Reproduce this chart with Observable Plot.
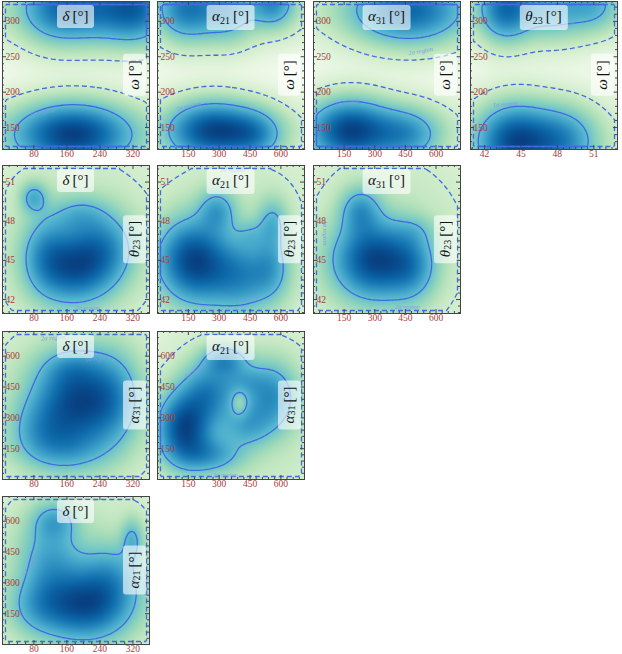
<!DOCTYPE html>
<html><head><meta charset="utf-8">
<script src="https://cdn.jsdelivr.net/npm/d3@7"></script>
<script src="https://cdn.jsdelivr.net/npm/@observablehq/plot@0.6"></script>
<style>
body{margin:0;background:#fff;}
#root{position:relative;width:622px;height:654px;overflow:hidden;background:#fff;}
.panel{position:absolute;}
.lab{position:absolute;background:rgba(255,255,255,0.62);border-radius:3px;font-family:"Liberation Serif","DejaVu Serif",serif;font-size:15px;color:#111;white-space:nowrap;line-height:1;}
.lab sub{font-size:10px;vertical-align:-3px;font-style:normal;}
.top{padding:4px 6px 4px 6px;transform:translateX(-50%);}
.side{writing-mode:vertical-rl;padding:6px 4px 6px 4px;transform:translateY(-50%) rotate(180deg);}
</style></head>
<body><div id="root"></div>
<script>
// ---- axis data ----
const deltaDomain = [4, 360], deltaTicks = [80, 160, 240, 320], deltaMinor = 20;
const alpha21DomainX = [0, 715], alpha21DomainY = [0, 720];
const alpha31DomainX = [0, 720], alpha31DomainY = [0, 720];
const alphaTicks = [150, 300, 450, 600], alphaMinor = 30;
const theta23DomainX = [40.85, 52.95], theta23DomainY = [40.93, 52.27];
const thetaTicks = [42, 45, 48, 51], thetaMinor = 0.5;
const omegaDomain = [119, 328], omegaTicks = [150, 200, 250, 300], omegaMinor = 10;

// ---- density components: [cx, cy, sx, sy, weight] ----
const compDeltaOmega = [
  [175,140,88,28,1.0],[180,140,220,28,0.1],
  [135,318,55,31,0.55],[235,318,60,31,0.5],[330,318,50,31,0.66],[180,318,200,31,0.14]];
const compA21Omega = [
  [270,145,140,26,1.0],[470,140,90,22,0.45],[360,145,300,26,0.1],
  [140,318,95,29,0.65],[340,316,90,29,0.45],[560,326,70,22,0.55],[360,318,300,29,0.12]];
const compA31Omega = [
  [180,145,130,28,1.0],[450,140,110,24,0.5],[360,145,300,28,0.1],
  [470,315,180,30,0.75],[360,318,300,30,0.1]];
const compT23Omega = [
  [44.5,130,2.0,33,1.0],[48.3,130,1.9,31,0.6],[46.5,135,5,33,0.1],
  [43.7,318,1.4,29,0.75],[47.5,318,2.0,28,0.4],[51,324,1.5,24,0.35],[46.5,318,5,29,0.12]];
const compDeltaT23 = [
  [180,44.5,60,1.8,1.0],[250,46.0,50,1.8,0.55],[110,45.5,40,2.0,0.45],
  [190,48.5,45,1.0,0.3],[80,49.8,22,0.8,0.45],[180,46.5,180,6,0.12]];
const compA21T23 = [
  [170,45.0,110,2.0,1.0],[400,43.8,120,1.8,0.6],[290,48.8,60,1.1,0.42],[450,47.0,50,0.8,0.15],
  [560,47.8,50,1.3,0.35],[550,44.5,60,1.5,0.3],[360,46.5,350,6,0.1]];
const compA31T23 = [
  [300,45.0,130,1.9,1.0],[230,48.8,65,1.2,0.45],[480,44.5,80,1.7,0.4],[500,47.3,70,0.8,0.12],[360,46.5,350,6,0.1]];
const compDeltaA31 = [
  [185,380,70,140,1.0],[170,540,45,60,0.2],[270,400,45,150,0.35],[150,150,70,80,0.35],
  [100,250,50,90,0.3],[180,360,180,350,0.12]];
const compA21A31 = [
  [130,250,85,110,1.0],[250,420,90,100,0.6],[330,580,70,50,0.5],[250,120,110,60,0.45],
  [550,400,85,110,0.55],[430,260,80,70,0.35],[420,480,70,50,0.25],[450,300,350,350,0.1],[400,370,30,50,-0.25]];
const compDeltaA21 = [
  [205,190,70,110,1.0],[120,400,50,150,0.45],[130,600,35,60,0.35],[265,330,50,110,0.4],
  [318,510,18,70,0.35],[90,180,50,90,0.3],[180,360,180,350,0.12]];

// contour levels (fraction of peak)
const levelOne = 0.32, levelTwo = 0.05;

// region labels: [panel, x, y, text, angle]
const regionLabels = [
  [0,100,172,"1σ region",-10],[1,150,180,"1σ region",-12],[2,165,186,"1σ region",-10],[2,525,258,"2σ region",-10],
  [3,43.7,183,"1σ region",-5],[3,48.4,294,"1σ region",-10],[4,210,41.35,"2σ region",0],[5,364,51.9,"2σ region",0],
  [5,445,42.1,"1σ region",-15],[6,59,47.1,"1σ region",90],[6,460,41.45,"2σ region",0],[7,127,690,"2σ region",-5],
  [7,234,590,"1σ region",-5],[8,185,530,"1σ region",-35],[8,330,20,"2σ region",0],[9,72,384,"1σ region",-60],[9,352,300,"2σ region",90]];

// ---- variables ----
const vars = {
  delta:   {html:"<i>δ</i>&thinsp;[°]", domX:deltaDomain, domY:deltaDomain, ticks:deltaTicks, minor:deltaMinor},
  alpha21: {html:"<i>α</i><sub>21</sub>&thinsp;[°]", domX:alpha21DomainX, domY:alpha21DomainY, ticks:alphaTicks, minor:alphaMinor},
  alpha31: {html:"<i>α</i><sub>31</sub>&thinsp;[°]", domX:alpha31DomainX, domY:alpha31DomainY, ticks:alphaTicks, minor:alphaMinor},
  theta23: {html:"<i>θ</i><sub>23</sub>&thinsp;[°]", domX:theta23DomainX, domY:theta23DomainY, ticks:thetaTicks, minor:thetaMinor},
  omega:   {html:"<i>ω</i>&thinsp;[°]", domX:omegaDomain, domY:omegaDomain, ticks:omegaTicks, minor:omegaMinor}
};
const panels = [
  {row:0,col:0,x:"delta",y:"omega",comps:compDeltaOmega},
  {row:0,col:1,x:"alpha21",y:"omega",comps:compA21Omega},
  {row:0,col:2,x:"alpha31",y:"omega",comps:compA31Omega},
  {row:0,col:3,x:"theta23",y:"omega",comps:compT23Omega},
  {row:1,col:0,x:"delta",y:"theta23",comps:compDeltaT23},
  {row:1,col:1,x:"alpha21",y:"theta23",comps:compA21T23},
  {row:1,col:2,x:"alpha31",y:"theta23",comps:compA31T23},
  {row:2,col:0,x:"delta",y:"alpha31",comps:compDeltaA31},
  {row:2,col:1,x:"alpha21",y:"alpha31",comps:compA21A31},
  {row:3,col:0,x:"delta",y:"alpha21",comps:compDeltaA21}
];

// ---- layout ----
const colLeft = [2, 157, 313, 470], rowTop = [1, 165, 331, 496];
const PW = 147, PH = 148, INSET = 3;
const tickColor = "#a83a3a", frameColor = "#444", lineColor = "#4169e1";
const serif = "Liberation Serif, DejaVu Serif, serif";

function field(comps) {
  return (x, y) => {
    let s = 0;
    for (const [cx, cy, sx, sy, w] of comps) {
      const dx = (x - cx) / sx, dy = (y - cy) / sy;
      s += w * Math.exp(-0.5 * (dx * dx + dy * dy));
    }
    return Math.max(0, s);
  };
}
function minorTicks(dom, step, majors) {
  return d3.range(Math.ceil(dom[0] / step) * step, dom[1], step)
    .filter(v => !majors.some(m => Math.abs(m - v) < 1e-9));
}

const root = document.getElementById("root");
panels.forEach((p, i) => {
  const vx = vars[p.x], vy = vars[p.y];
  const xd = vx.domX, yd = vy.domY;
  const raw = field(p.comps);
  let mx = 0;
  for (let a = 0; a <= 120; a++) for (let b = 0; b <= 120; b++) {
    mx = Math.max(mx, raw(xd[0] + (xd[1] - xd[0]) * a / 120, yd[0] + (yd[1] - yd[0]) * b / 120));
  }
  const F = (x, y) => raw(x, y) / mx;
  const ext = {x1: xd[0], x2: xd[1], y1: yd[0], y2: yd[1]};
  const ix = (xd[1] - xd[0]) * INSET / PW, iy = (yd[1] - yd[0]) * INSET / PH;
  const cext = {x1: xd[0] + ix, x2: xd[1] - ix, y1: yd[0] + iy, y2: yd[1] - iy};
  const xmin = minorTicks(xd, vx.minor, vx.ticks), ymin = minorTicks(yd, vy.minor, vy.ticks);
  const labs = regionLabels.filter(r => r[0] === i);
  const svg = Plot.plot({
    width: PW + 2, height: PH + 16,
    marginLeft: 1, marginRight: 1, marginTop: 1, marginBottom: 15,
    x: {domain: xd, axis: null}, y: {domain: yd, axis: null},
    color: {type: "sqrt", scheme: "GnBu", domain: [0, 1]},
    style: {background: "transparent", overflow: "visible"},
    marks: [
      Plot.raster({...ext, fill: F, pixelSize: 1}),
      Plot.contour({...cext, value: F, thresholds: [levelTwo], fill: "none", stroke: lineColor, strokeWidth: 1.3, strokeDasharray: "5,3"}),
      Plot.contour({...cext, value: F, thresholds: [levelOne], fill: "none", stroke: lineColor, strokeWidth: 1.3}),
      Plot.text(labs, {x: d => d[1], y: d => d[2], text: d => d[3], rotate: d => d[4], fill: "#7d9be6", fontSize: 6.5, fontStyle: "italic", fontFamily: serif}),
      Plot.tickX(vx.ticks, {x: d => d, insetTop: PH - 4, stroke: frameColor}),
      Plot.tickX(vx.ticks, {x: d => d, insetBottom: PH - 4, stroke: frameColor}),
      Plot.tickY(vy.ticks, {y: d => d, insetRight: PW - 4, stroke: frameColor}),
      Plot.tickY(vy.ticks, {y: d => d, insetLeft: PW - 4, stroke: frameColor}),
      Plot.tickX(xmin, {x: d => d, insetTop: PH - 2, stroke: frameColor}),
      Plot.tickX(xmin, {x: d => d, insetBottom: PH - 2, stroke: frameColor}),
      Plot.tickY(ymin, {y: d => d, insetRight: PW - 2, stroke: frameColor}),
      Plot.tickY(ymin, {y: d => d, insetLeft: PW - 2, stroke: frameColor}),
      Plot.text(vx.ticks, {x: d => d, frameAnchor: "bottom", dy: 7, text: d => String(d), fill: tickColor, fontSize: 9.5, fontFamily: serif}),
      Plot.text(vy.ticks, {y: d => d, frameAnchor: "left", dx: 3, textAnchor: "start", text: d => String(d), fill: tickColor, fontSize: 9.5, fontFamily: serif}),
      Plot.frame({stroke: frameColor, strokeWidth: 1})
    ]
  });
  const wrap = document.createElement("div");
  wrap.className = "panel";
  wrap.style.left = (colLeft[p.col] - 1) + "px";
  wrap.style.top = (rowTop[p.row] - 1) + "px";
  wrap.appendChild(svg);
  root.appendChild(wrap);

  const t = document.createElement("div");
  t.className = "lab top";
  t.innerHTML = vx.html;
  t.style.left = (colLeft[p.col] + PW / 2) + "px";
  t.style.top = (rowTop[p.row] + 4) + "px";
  root.appendChild(t);

  const s = document.createElement("div");
  s.className = "lab side";
  s.innerHTML = vy.html;
  s.style.right = (622 - (colLeft[p.col] + PW - 3)) + "px";
  s.style.top = (rowTop[p.row] + PH / 2) + "px";
  root.appendChild(s);
});
</script></body></html>
